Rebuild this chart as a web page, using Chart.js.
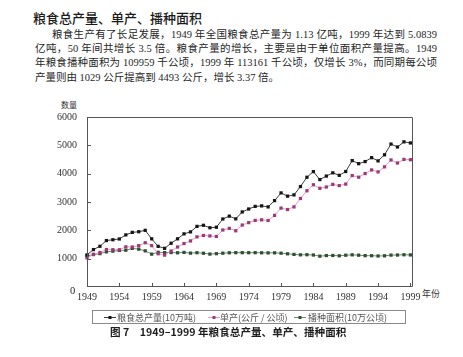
<!DOCTYPE html>
<html><head><meta charset="utf-8">
<script src="https://cdn.jsdelivr.net/npm/chart.js@4/dist/chart.umd.min.js"></script>
<style>
html,body{margin:0;padding:0;background:#fff;width:463px;height:357px;overflow:hidden;}
#wrap{position:relative;width:463px;height:357px;}
canvas{position:absolute;left:0;top:0;}
.t{position:absolute;white-space:nowrap;color:#222;}
.h{left:33px;top:9px;font-family:"Noto Sans CJK SC";font-weight:500;font-size:13px;line-height:18px;color:#1a1a1a;}
.p{font-family:"Liberation Serif","Noto Sans CJK SC";font-size:10.5px;line-height:14px;color:#262626;}
.j{text-align:justify;text-align-last:justify;}
.cap{left:110px;top:324px;font-family:"Noto Sans CJK SC";font-weight:700;font-size:10.6px;line-height:16px;color:#1e1e1e;}
.ax{font-family:"Noto Sans CJK SC";color:#333;}
.zero{left:70px;top:285px;font-family:"Liberation Serif";font-size:10.5px;line-height:12px;color:#222;z-index:2;}
</style></head>
<body><div id="wrap">
<div class="t h">粮食总产量、单产、播种面积</div>
<div class="t p j" style="left:52px;top:28px;width:385px;">粮食生产有了长足发展，1949 年全国粮食总产量为 1.13 亿吨，1999 年达到 5.0839</div>
<div class="t p j" style="left:35px;top:42px;width:402px;">亿吨，50 年间共增长 3.5 倍。粮食产量的增长，主要是由于单位面积产量提高。1949</div>
<div class="t p j" style="left:35px;top:56px;width:402px;">年粮食播种面积为 109959 千公顷，1999 年 113161 千公顷，仅增长 3%，而同期每公顷</div>
<div class="t p" style="left:35px;top:70.5px;">产量则由 1029 公斤提高到 4493 公斤，增长 3.37 倍。</div>
<div class="t ax" style="left:61px;top:99px;font-size:8px;line-height:12px;">数量</div>
<div class="t ax" style="left:422px;top:288px;font-size:9px;line-height:12px;">年份</div>
<canvas id="c" width="463" height="357"></canvas>
<div class="t zero">0</div>
<div class="t cap">图 7　1949–1999 年粮食总产量、单产、播种面积</div>
</div>
<script>
const years = [1949,1950,1951,1952,1953,1954,1955,1956,1957,1958,1959,1960,1961,1962,1963,1964,1965,1966,1967,1968,1969,1970,1971,1972,1973,1974,1975,1976,1977,1978,1979,1980,1981,1982,1983,1984,1985,1986,1987,1988,1989,1990,1991,1992,1993,1994,1995,1996,1997,1998,1999];
const totalOutput = [1132,1321,1437,1639,1668,1695,1839,1928,1951,2000,1700,1435,1365,1544,1700,1875,1945,2140,2178,2091,2110,2400,2501,2405,2649,2753,2845,2863,2827,3048,3321,3206,3250,3545,3873,4073,3791,3915,4030,3941,4076,4462,4353,4427,4565,4451,4666,5045,4942,5123,5084];
const yieldPerHa = [1029,1155,1215,1322,1317,1314,1416,1412,1460,1562,1460,1173,1125,1269,1412,1534,1626,1770,1819,1802,1784,2012,2070,1985,2187,2273,2350,2370,2348,2527,2785,2734,2827,3124,3396,3608,3483,3529,3622,3579,3632,3933,3876,4004,4131,4063,4240,4483,4377,4502,4493];
const sownArea = [1100,1144,1178,1240,1266,1290,1298,1363,1336,1276,1160,1224,1214,1216,1207,1221,1196,1210,1192,1162,1176,1193,1208,1212,1212,1210,1211,1207,1204,1206,1193,1172,1150,1135,1140,1129,1088,1109,1113,1101,1122,1135,1123,1106,1105,1095,1101,1125,1129,1138,1132];
const seriesLabels = ['粮食总产量(10万吨)','单产(公斤 / 公顷)','播种面积(10万公顷)'];
const xTickYears = [1949,1954,1959,1964,1969,1974,1979,1984,1989,1994,1999];
const yTickValues = [0,1000,2000,3000,4000,5000,6000];

const pts = arr => years.map((yr,i)=>({x:yr,y:arr[i]}));

const frameTicks = {
  id:'frameTicks',
  afterDraw(chart){
    const ctx=chart.ctx, a=chart.chartArea, xs=chart.scales.x, ys=chart.scales.y;
    ctx.save();
    ctx.strokeStyle='#555'; ctx.lineWidth=1;
    ctx.beginPath();
    ctx.moveTo(a.left+0.5,a.top+0.5); ctx.lineTo(a.right-0.5,a.top+0.5);
    ctx.lineTo(a.right-0.5,a.bottom-0.5); ctx.lineTo(a.left+0.5,a.bottom-0.5); ctx.closePath();
    yTickValues.forEach(v=>{ if(v===0) return; const y=Math.round(ys.getPixelForValue(v))+0.5; ctx.moveTo(a.left,y); ctx.lineTo(a.left+4,y);});
    xTickYears.forEach(v=>{ const x=Math.round(xs.getPixelForValue(v))+0.5; ctx.moveTo(x,a.bottom); ctx.lineTo(x,a.bottom-4);});
    ctx.stroke();
    ctx.restore();
  }
};

const boxLegend = {
  id:'boxLegend',
  afterDraw(chart){
    const ctx=chart.ctx;
    ctx.save();
    ctx.strokeStyle='#8a8a8a'; ctx.lineWidth=1;
    ctx.strokeRect(92.5,310.5,313,13);
    const pos=[{mx:110,tx:117},{mx:214,tx:220},{mx:300,tx:308}];
    const yy=317;
    chart.data.datasets.forEach((ds,i)=>{
      const p=pos[i];
      ctx.strokeStyle=ds.borderColor; ctx.lineWidth=1;
      ctx.beginPath(); ctx.moveTo(p.mx-6,yy+0.5); ctx.lineTo(p.mx+6,yy+0.5); ctx.stroke();
      ctx.fillStyle=ds.pointBackgroundColor;
      ctx.fillRect(p.mx-1.5,yy-1,3,3);
      ctx.fillStyle='#555';
      ctx.font='9px "Noto Sans CJK SC"';
      ctx.textBaseline='middle';
      ctx.fillText(ds.label,p.tx,yy+0.5);
    });
    ctx.restore();
  }
};

new Chart(document.getElementById('c'),{
  type:'line',
  data:{datasets:[
    {label:seriesLabels[0],data:pts(totalOutput),borderColor:'#3c3c3c',borderWidth:1,pointStyle:'rect',pointRadius:2.3,pointBackgroundColor:'#151515',pointBorderColor:'#151515',pointBorderWidth:0,tension:0,clip:false},
    {label:seriesLabels[1],data:pts(yieldPerHa),borderColor:'#e79ac4',borderWidth:1,pointStyle:'rect',pointRadius:2.3,pointBackgroundColor:'#9c3a78',pointBorderColor:'#9c3a78',pointBorderWidth:0,tension:0,clip:false},
    {label:seriesLabels[2],data:pts(sownArea),borderColor:'#6c8a6c',borderWidth:1,pointStyle:'rect',pointRadius:2.3,pointBackgroundColor:'#2f4f33',pointBorderColor:'#2f4f33',pointBorderWidth:0,tension:0,clip:false}
  ]},
  options:{
    responsive:false,animation:false,devicePixelRatio:1,
    layout:{padding:{left:0,top:117,right:50,bottom:50}},
    plugins:{legend:{display:false},tooltip:{enabled:false}},
    scales:{
      x:{type:'linear',min:1949,max:1999.4,
        afterBuildTicks:s=>{s.ticks=xTickYears.map(v=>({value:v}));},
        afterFit:s=>{s.height=20;},
        grid:{display:false,drawTicks:false},border:{display:false},
        ticks:{padding:4,autoSkip:false,maxRotation:0,color:'#333',font:{family:'Liberation Serif',size:10},callback:v=>String(v)}},
      y:{min:0,max:6000,
        afterBuildTicks:s=>{s.ticks=yTickValues.map(v=>({value:v}));},
        afterFit:s=>{s.width=87;},
        grid:{display:false,drawTicks:false},border:{display:false},
        ticks:{padding:10,color:'#333',font:{family:'Liberation Serif',size:10},callback:v=>v===0?'':String(v)}}
    }
  },
  plugins:[frameTicks,boxLegend]
});
</script>
</body></html>
